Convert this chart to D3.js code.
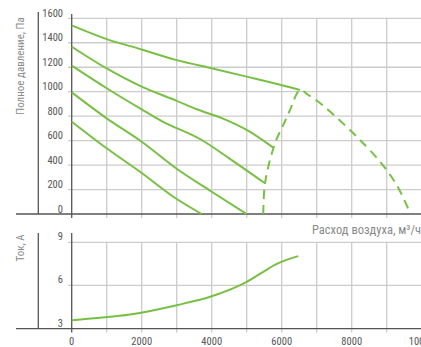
<!DOCTYPE html>
<html><head><meta charset="utf-8">
<script src="https://cdn.jsdelivr.net/npm/d3@7/dist/d3.min.js"></script>
<style>
html,body{margin:0;padding:0;background:#fff;}
svg{display:block;}
text{font-family:"Liberation Sans Narrow","Roboto Condensed","Arial Narrow","Liberation Sans",sans-serif;}
</style></head>
<body><svg id="c" width="421" height="347"></svg>
<script>
// ---- data ----
const xTicks = [0, 2000, 4000, 6000, 8000, 10000];
const pressureTicks = [0, 200, 400, 600, 800, 1000, 1200, 1400, 1600];
const currentTicks = [3, 6, 9];
const curve1 = [[0,1542],[1000,1430],[2000,1345],[3000,1258],[4000,1191],[5000,1123],[6237,1036],[6523,1014]];
const curve2 = [[0,1368],[1000,1190],[2000,1041],[3000,925],[3571,856],[4323,780],[5000,687],[5751,544]];
const curve3 = [[0,1213],[1000,1028],[2000,855],[2571,760],[3714,605],[4500,455],[5523,251]];
const curve4 = [[0,995],[1000,782],[2000,591],[3000,370],[4000,182],[5000,0]];
const curve5 = [[0,755],[1000,537],[2000,335],[2903,141],[3714,0]];
const boundary = [[5474,0],[5523,251],[5809,578],[6046,728],[6237,850],[6523,1014],[6760,973],[7046,918],[7331,850],[7951,687],[8237,605],[8809,428],[9286,237],[9680,0]];
const current = [[0,3.58],[800,3.75],[1666,3.98],[3000,4.63],[4000,5.25],[5000,6.25],[5474,6.95],[5857,7.5],[6474,8.04]];
const yLabelTop = "Полное давление, Па";
const yLabelBottom = "Ток, А";
const xLabel = "Расход воздуха, м³/ч";

// ---- drawing ----
const svg = d3.select("#c");
const green = "#78c043", grid = "#cccccc", axis = "#555555", lab = "#555555", title = "#8a8a8a";
const x = d3.scaleLinear([0,10000],[71.7,421.7]);
const yT = d3.scaleLinear([0,1600],[214,18.3]);
const yB = d3.scaleLinear([3,9],[328.6,242.3]);
const gridX = d3.range(1000,10001,1000);

// vertical gridlines
svg.append("g").selectAll("line").data(gridX).join("line")
  .attr("x1",d=>x(d)).attr("x2",d=>x(d)).attr("y1",yT(1600)).attr("y2",yT(0)+4)
  .attr("stroke",grid).attr("stroke-width",1.3);
svg.append("g").selectAll("line").data(gridX).join("line")
  .attr("x1",d=>x(d)).attr("x2",d=>x(d)).attr("y1",yB(9)).attr("y2",yB(3)+4)
  .attr("stroke",grid).attr("stroke-width",1.3);
// horizontal gridlines
svg.append("g").selectAll("line").data(pressureTicks.filter(d=>d>0)).join("line")
  .attr("x1",68).attr("x2",421).attr("y1",d=>yT(d)).attr("y2",d=>yT(d))
  .attr("stroke",grid).attr("stroke-width",1.3);
svg.append("g").selectAll("line").data(currentTicks.filter(d=>d>3)).join("line")
  .attr("x1",68).attr("x2",421).attr("y1",d=>yB(d)).attr("y2",d=>yB(d))
  .attr("stroke",grid).attr("stroke-width",1.3);

// axes lines
function ln(x1,y1,x2,y2){svg.append("line").attr("x1",x1).attr("y1",y1).attr("x2",x2).attr("y2",y2).attr("stroke",axis).attr("stroke-width",1.3);}
ln(16,yT(0),421,yT(0));
ln(16,yB(3),421,yB(3));
ln(38.3,12,38.3,yT(0));
ln(38.3,233,38.3,yB(3));
ln(x(0),14,x(0),yT(0)+4);
ln(x(0),233,x(0),yB(3)+4);

// tick labels
svg.append("g").selectAll("text").data(pressureTicks).join("text")
  .attr("x",63).attr("y",d=>yT(d)-1.5).attr("text-anchor","end")
  .attr("font-size",10.5).attr("fill",lab).text(d=>d);
svg.append("g").selectAll("text").data(currentTicks).join("text")
  .attr("x",63).attr("y",d=>yB(d)-2).attr("text-anchor","end")
  .attr("font-size",10.5).attr("fill",lab).text(d=>d);
svg.append("g").selectAll("text").data(xTicks).join("text")
  .attr("x",d=>x(d)).attr("y",344.5).attr("text-anchor","middle")
  .attr("font-size",10.5).attr("fill",lab).text(d=>d);

// axis titles
svg.append("text").attr("transform","translate(24,66) rotate(-90)").attr("text-anchor","middle")
  .attr("font-size",11).attr("fill",title).text(yLabelTop);
svg.append("text").attr("transform","translate(24,248) rotate(-90)").attr("text-anchor","middle")
  .attr("font-size",11).attr("fill",title).text(yLabelBottom);
svg.append("text").attr("x",312).attr("y",233.5).attr("font-size",12.5).attr("fill",title).text(xLabel);

// curves
const lineT = d3.line().x(d=>x(d[0])).y(d=>yT(d[1])).curve(d3.curveMonotoneX);
[curve1,curve2,curve3,curve4,curve5].forEach(c=>{
  svg.append("path").attr("d",lineT(c)).attr("fill","none").attr("stroke",green).attr("stroke-width",2);
});
const lineBd = d3.line().x(d=>x(d[0])).y(d=>yT(d[1])).curve(d3.curveCatmullRom);
svg.append("path").attr("d",lineBd(boundary)).attr("fill","none").attr("stroke",green)
  .attr("stroke-width",2).attr("stroke-dasharray","9,6");
const lineB = d3.line().x(d=>x(d[0])).y(d=>yB(d[1])).curve(d3.curveMonotoneX);
svg.append("path").attr("d",lineB(current)).attr("fill","none").attr("stroke",green).attr("stroke-width",2);
</script></body></html>
